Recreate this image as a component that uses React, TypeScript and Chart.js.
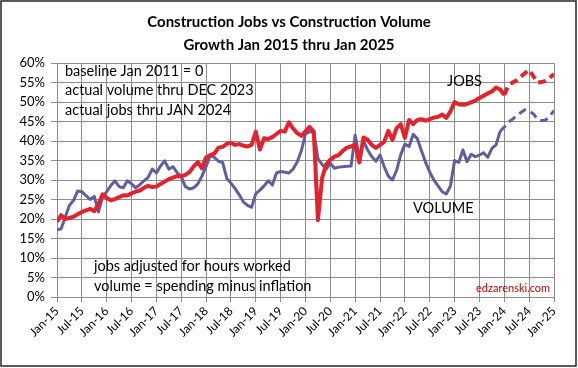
import React, { useEffect, useRef } from 'react';
import { Chart, registerables } from 'chart.js';

Chart.register(...registerables);

// ---- data ----
const xTickLabels = [
  'Jan-15', 'Jul-15', 'Jan-16', 'Jul-16', 'Jan-17', 'Jul-17', 'Jan-18', 'Jul-18',
  'Jan-19', 'Jul-19', 'Jan-20', 'Jul-20', 'Jan-21', 'Jul-21', 'Jan-22', 'Jul-22',
  'Jan-23', 'Jul-23', 'Jan-24', 'Jul-24', 'Jan-25',
];

// monthly, Jan-15 .. Jan-24 (actual)
const jobsActual = [
  19.3, 21.0, 20.0, 20.3, 20.6, 21.2, 21.8, 22.2, 22.6, 22.0, 23.8, 26.3,
  25.4, 24.8, 25.1, 25.6, 26.1, 26.0, 26.6, 27.0, 27.3, 28.0, 28.5, 28.2,
  28.3, 29.0, 29.6, 30.2, 30.6, 31.0, 30.9, 31.3, 32.0, 33.5, 34.6, 33.0,
  35.8, 36.4, 36.8, 38.3, 38.5, 39.3, 39.5, 39.0, 39.2, 38.8, 38.6, 39.0,
  42.4, 37.8, 40.7, 40.5, 41.0, 41.8, 42.6, 42.4, 44.8, 43.2, 42.0, 41.3,
  42.5, 43.6, 42.4, 19.7, 30.5, 34.0, 35.2, 36.0, 36.4, 37.5, 38.3, 38.6,
  39.0, 34.5, 40.9, 40.3, 39.0, 38.2, 39.0, 39.8, 42.6, 40.3, 43.3, 44.3,
  40.8, 45.4, 44.3, 45.4, 45.6, 45.2, 45.6, 46.0, 46.2, 46.8, 45.9, 47.6,
  50.0, 49.4, 49.3, 49.5, 49.9, 50.4, 51.0, 51.6, 52.2, 52.7, 53.7, 53.2,
  51.8,
];
// Feb-24 .. Jan-25 (forecast)
const jobsForecast = [54.3, 55.0, 55.6, 56.5, 57.4, 58.2, 56.6, 55.0, 55.1, 55.4, 56.2, 57.2];

// monthly, Jan-15 .. Dec-23 (actual)
const volumeActual = [
  17.2, 17.5, 20.5, 23.5, 24.8, 27.2, 27.0, 26.0, 25.0, 25.8, 21.8, 25.6,
  27.0, 28.6, 29.8, 28.3, 28.0, 29.8, 29.0, 28.0, 28.8, 29.8, 30.7, 32.8,
  31.8, 33.6, 34.9, 32.8, 33.4, 31.9, 30.8, 28.3, 27.7, 28.0, 29.0, 31.0,
  33.5, 36.3, 35.8, 34.8, 34.5, 30.4, 29.2, 27.8, 26.2, 24.4, 23.5, 23.0,
  26.5, 27.4, 28.5, 29.8, 28.7, 31.8, 32.2, 32.0, 31.8, 32.8, 34.6, 37.5,
  41.8, 42.4, 42.2, 35.5, 34.0, 32.8, 34.3, 33.0, 33.3, 33.4, 33.5, 33.6,
  41.5, 35.6, 40.0, 37.7, 36.0, 34.8, 36.4, 33.4, 31.0, 30.0, 32.5, 36.5,
  39.2, 38.6, 41.7, 40.6, 37.5, 34.5, 32.0, 30.0, 28.5, 27.0, 26.4, 28.5,
  35.0, 34.5, 37.7, 34.7, 36.6, 36.0, 36.4, 37.0, 35.8, 38.1, 39.0, 42.5,
];
// Jan-24 .. Jan-25 (forecast)
const volumeForecast = [43.6, 44.8, 45.6, 46.5, 47.3, 48.0, 47.6, 47.0, 45.6, 45.2, 45.4, 46.4, 47.8];

const titleLines = ['Construction Jobs vs Construction Volume', 'Growth Jan 2015 thru Jan 2025'];
const notesTop = ['baseline Jan 2011 = 0', 'actual volume thru DEC 2023', 'actual jobs thru JAN 2024'];
const notesBottom = ['jobs adjusted for hours worked', 'volume = spending minus inflation'];
const seriesLabels = ['JOBS', 'VOLUME'];
const credit = 'edzarenski.com';

// ---- styles ----
const FONT = 'Lato, "Open Sans", sans-serif';
const RED = '#E3222C';
const PURPLE = '#5F5E9E';
const GRID = '#8C8C8C';

const toPoints = (vals: number[]) => vals.map((v, i) => ({ x: i, y: v }));

const decor = {
  id: 'decor',
  afterDraw(chart: any) {
    const ctx = chart.ctx as CanvasRenderingContext2D;
    ctx.save();
    // outer frame
    ctx.strokeStyle = '#262626';
    ctx.lineWidth = 1.5;
    ctx.strokeRect(1, 1, 575, 365);

    ctx.fillStyle = '#000';
    ctx.textBaseline = 'middle';
    ctx.textAlign = 'center';
    ctx.font = `bold 15px ${FONT}`;
    ctx.fillText(titleLines[0], 289, 22);
    ctx.fillText(titleLines[1], 289, 45);

    ctx.textAlign = 'left';
    ctx.font = `14.5px ${FONT}`;
    notesTop.forEach((t, i) => ctx.fillText(t, 65, 71 + i * 19.5));
    notesBottom.forEach((t, i) => ctx.fillText(t, 94, 266 + i * 20));
    ctx.fillText(seriesLabels[0], 447, 81);
    ctx.fillText(seriesLabels[1], 413, 208);

    ctx.fillStyle = '#C00000';
    ctx.font = `11px ${FONT}`;
    ctx.fillText(credit, 476, 288);
    ctx.restore();
  },
};

export default function App() {
  const ref = useRef<HTMLCanvasElement | null>(null);

  useEffect(() => {
    if (!ref.current) return;
    const jobsCut = jobsActual.length - 1;
    const volCut = volumeActual.length - 1;
    const chart = new Chart(ref.current, {
      type: 'line',
      data: {
        datasets: [
          {
            label: 'Jobs',
            data: toPoints([...jobsActual, ...jobsForecast]),
            borderColor: RED,
            borderWidth: 4,
            pointRadius: 0,
            tension: 0,
            borderJoinStyle: 'round',
            segment: {
              borderDash: (c: any) => (c.p0DataIndex >= jobsCut ? [8, 5] : undefined),
            },
          },
          {
            label: 'Volume',
            data: toPoints([...volumeActual, ...volumeForecast]),
            borderColor: PURPLE,
            borderWidth: 3,
            pointRadius: 0,
            tension: 0,
            borderJoinStyle: 'round',
            segment: {
              borderDash: (c: any) => (c.p0DataIndex >= volCut ? [8, 5] : undefined),
            },
          },
        ],
      },
      options: {
        animation: false,
        responsive: false,
        maintainAspectRatio: false,
        events: [],
        layout: { padding: { left: 0, right: 24, top: 63, bottom: 0 } },
        plugins: { legend: { display: false }, tooltip: { enabled: false }, title: { display: false } },
        scales: {
          x: {
            type: 'linear',
            min: 0,
            max: 120,
            ticks: {
              stepSize: 6,
              autoSkip: false,
              minRotation: 45,
              maxRotation: 45,
              color: '#000',
              padding: 2,
              font: { family: FONT, size: 12 },
              callback: (v: any) => xTickLabels[Math.round(Number(v) / 6)] ?? '',
            },
            grid: { color: GRID, lineWidth: 1, tickLength: 5, drawTicks: true },
            border: { color: GRID, width: 1 },
            afterFit: (s: any) => {
              s.height = 71;
            },
          },
          y: {
            min: 0,
            max: 60,
            ticks: {
              stepSize: 5,
              color: '#000',
              padding: 6,
              font: { family: FONT, size: 13 },
              callback: (v: any) => `${v}%`,
            },
            grid: { color: GRID, lineWidth: 1, tickLength: 6, drawTicks: true },
            border: { color: GRID, width: 1 },
            afterFit: (s: any) => {
              s.width = 57;
            },
          },
        },
      },
      plugins: [decor],
    });
    return () => chart.destroy();
  }, []);

  return (
    <div style={{ position: 'absolute', left: 0, top: 0, width: 578, height: 368, background: '#fff' }}>
      <canvas ref={ref} width={578} height={368} style={{ display: 'block' }} />
    </div>
  );
}
